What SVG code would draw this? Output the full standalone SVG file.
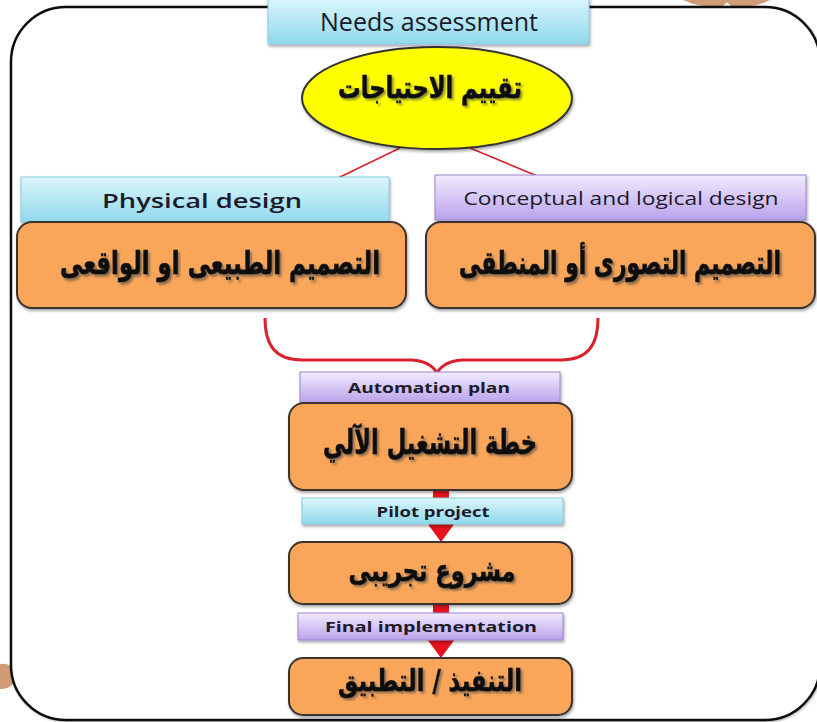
<svg xmlns="http://www.w3.org/2000/svg" width="817" height="722" viewBox="0 0 817 722">
  <defs>
    <linearGradient id="cyanFill" x1="0" y1="0" x2="0" y2="1">
      <stop offset="0" stop-color="#dcf6fc"/>
      <stop offset="1" stop-color="#8fd9ec"/>
    </linearGradient>
    <linearGradient id="lilacFill" x1="0" y1="0" x2="0" y2="1">
      <stop offset="0" stop-color="#f3ecff"/>
      <stop offset="1" stop-color="#b9a2ea"/>
    </linearGradient>
    <filter id="boxShadow" x="-5%" y="-10%" width="110%" height="130%">
      <feDropShadow dx="1" dy="2" stdDeviation="1.5" flood-color="#000" flood-opacity="0.35"/>
    </filter>
    <filter id="textShadow" x="-10%" y="-30%" width="120%" height="170%">
      <feDropShadow dx="2" dy="2" stdDeviation="0.8" flood-color="#444" flood-opacity="0.6"/>
    </filter>
    <filter id="frameShadow" x="-2%" y="-2%" width="104%" height="104%">
      <feDropShadow dx="1" dy="1" stdDeviation="1.2" flood-color="#000" flood-opacity="0.3"/>
    </filter>
  </defs>
  <style>
    .orange { fill: #f9a65a; stroke: #3b3330; stroke-width: 2; filter: url(#boxShadow); }
    .cyan { fill: url(#cyanFill); stroke: #86cadd; stroke-width: 1; filter: url(#boxShadow); }
    .lilac { fill: url(#lilacFill); stroke: #9c86cf; stroke-width: 1; filter: url(#boxShadow); }
    .ar { font-family: "DejaVu Sans", sans-serif; font-weight: bold; fill: #111; stroke: #111; stroke-width: 0.6; text-anchor: middle; filter: url(#textShadow); }
    .en { font-family: "Open Sans", "Liberation Sans", sans-serif; fill: #1b1b2b; text-anchor: middle; }
    .link { fill: none; stroke: #d8222e; }
  </style>

  <rect x="0" y="0" width="817" height="722" fill="#ffffff"/>

  <!-- decorative tan shapes behind the frame -->
  <path d="M683,0 Q700,8 722,7 L727,2 L732,7 Q755,8 770,0 Z" fill="#d09b76"/>
  <path d="M0,664 Q11,662 13,672 L13,684 Q9,689 0,689 Z" fill="#d09b76"/>

  <!-- outer frame -->
  <rect x="11" y="7" width="809" height="713" rx="55" ry="55" fill="#ffffff" stroke="#111" stroke-width="2.5" filter="url(#frameShadow)"/>

  <!-- connectors -->
  <g id="connectors">
    <line class="link" x1="400" y1="148" x2="338" y2="178" stroke-width="1.6"/>
    <line class="link" x1="470" y1="148" x2="542" y2="178" stroke-width="1.6"/>
    <path class="link" stroke="#c8101e" stroke-width="3" d="M265,318 C265,346 276,360 302,360 L412,360 C426,361 433,366 437,373"/>
    <path class="link" stroke="#c8101e" stroke-width="3" d="M598,318 C598,346 587,360 561,360 L462,360 C448,361 441,366 437,373"/>
    <rect x="433" y="488" width="16" height="14" fill="#e8121c"/>
    <path d="M427,523 L455,523 L441,542 Z" fill="#e8121c"/>
    <rect x="433" y="602" width="16" height="14" fill="#e8121c"/>
    <path d="M427,639 L455,639 L441,658 Z" fill="#e8121c"/>
  </g>

  <g id="needs-assessment">
    <rect class="cyan" x="268" y="-2" width="321" height="46"/>
    <text class="en" x="429" y="31" font-size="25" textLength="218" lengthAdjust="spacingAndGlyphs">Needs assessment</text>
  </g>

  <g id="needs-ellipse">
    <ellipse cx="437" cy="98" rx="135" ry="51" fill="#ffff00" stroke="#333" stroke-width="2" filter="url(#boxShadow)"/>
    <text class="ar" x="430" y="98" font-size="30" textLength="184" lengthAdjust="spacingAndGlyphs">تقييم الاحتياجات</text>
  </g>

  <g id="physical-design">
    <rect class="cyan" x="21" y="177" width="368" height="45"/>
    <text class="en" x="202" y="208" font-size="20" font-weight="600" textLength="200" lengthAdjust="spacingAndGlyphs">Physical design</text>
  </g>

  <g id="physical-box">
    <rect class="orange" x="17" y="222" width="389" height="86" rx="15" ry="15"/>
    <text class="ar" transform="translate(220,274) scale(1,1.24)" x="0" y="0" font-size="26" textLength="320" lengthAdjust="spacingAndGlyphs">التصميم الطبيعى او الواقعى</text>
  </g>

  <g id="conceptual-design">
    <rect class="lilac" x="435" y="175" width="371" height="45"/>
    <text class="en" x="621" y="205" font-size="18" font-weight="500" textLength="315" lengthAdjust="spacingAndGlyphs">Conceptual and logical design</text>
  </g>

  <g id="conceptual-box">
    <rect class="orange" x="426" y="222" width="389" height="86" rx="15" ry="15"/>
    <text class="ar" transform="translate(620,274) scale(1,1.24)" x="0" y="0" font-size="26" textLength="322" lengthAdjust="spacingAndGlyphs">التصميم التصورى أو المنطقى</text>
  </g>

  <g id="automation-plan">
    <rect class="lilac" x="300" y="372" width="260" height="31"/>
    <text class="en" x="429" y="393" font-size="15" font-weight="bold" textLength="162" lengthAdjust="spacingAndGlyphs">Automation plan</text>
  </g>

  <g id="automation-box">
    <rect class="orange" x="289" y="403" width="283" height="87" rx="15" ry="15"/>
    <text class="ar" x="430" y="454" font-size="34" textLength="214" lengthAdjust="spacingAndGlyphs">خطة التشغيل الآلي</text>
  </g>

  <g id="pilot-project">
    <rect class="cyan" x="302" y="498" width="261" height="26"/>
    <text class="en" x="433" y="517" font-size="14" font-weight="bold" textLength="113" lengthAdjust="spacingAndGlyphs">Pilot project</text>
  </g>

  <g id="pilot-box">
    <rect class="orange" x="289" y="542" width="283" height="62" rx="14" ry="14"/>
    <text class="ar" x="432" y="581" font-size="30" textLength="167" lengthAdjust="spacingAndGlyphs">مشروع تجريبى</text>
  </g>

  <g id="final-implementation">
    <rect class="lilac" x="298" y="613" width="265" height="27"/>
    <text class="en" x="431" y="632" font-size="14" font-weight="bold" textLength="212" lengthAdjust="spacingAndGlyphs">Final implementation</text>
  </g>

  <g id="final-box">
    <rect class="orange" x="289" y="658" width="283" height="57" rx="14" ry="14"/>
    <text class="ar" x="430" y="691" font-size="30" textLength="184" lengthAdjust="spacingAndGlyphs">التنفيذ / التطبيق</text>
  </g>
</svg>
